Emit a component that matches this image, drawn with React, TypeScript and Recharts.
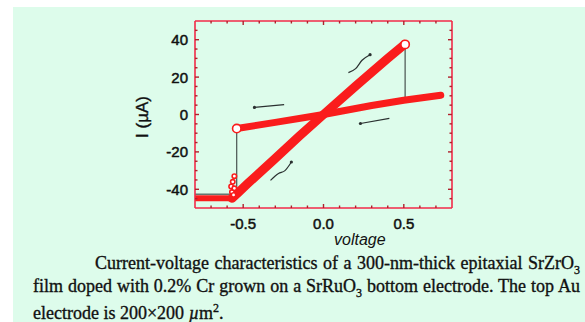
import React from "react";
import {
  ComposedChart,
  Line,
  Scatter,
  XAxis,
  YAxis,
} from "recharts";

// I-V hysteresis loop, current in µA vs voltage
const complianceFlat = [
  { v: -0.8, i: -44.8 },
  { v: -0.57, i: -44.8 },
];

const lowResBranch = [
  { v: -0.57, i: -44.8 },
  { v: -0.54, i: -42.5 },
  { v: -0.47, i: -36.8 },
  { v: -0.3, i: -23.5 },
  { v: -0.15, i: -11.5 },
  { v: 0, i: 0 },
  { v: 0.2, i: 15.2 },
  { v: 0.4, i: 30 },
  { v: 0.505, i: 37.5 },
];

const highResBranch = [
  { v: -0.54, i: -7.5 },
  { v: -0.3, i: -4.2 },
  { v: 0, i: 0 },
  { v: 0.3, i: 4.8 },
  { v: 0.5, i: 7.6 },
  { v: 0.73, i: 10.3 },
];

const setJump = [
  { v: 0.508, i: 37.5 },
  { v: 0.508, i: 8.2 },
];

const resetJump = [
  { v: -0.54, i: -7.5 },
  { v: -0.54, i: -42.6 },
  { v: -0.8, i: -42.6 },
];

const bigCircles = [
  { v: 0.508, i: 37.5 },
  { v: -0.54, i: -7.5 },
];

const smallCircles = [
  { v: -0.555, i: -33 },
  { v: -0.565, i: -36 },
  { v: -0.575, i: -38.5 },
  { v: -0.57, i: -41.5 },
  { v: -0.555, i: -39.5 },
  { v: -0.56, i: -43 },
];

// hand-drawn arrows, head at the last point
const arrowUpRight = [
  { v: 0.155, i: 22.4 },
  { v: 0.2, i: 24.5 },
  { v: 0.24, i: 29 },
  { v: 0.29, i: 32 },
];
const arrowLeftTop = [
  { v: -0.245, i: 5.3 },
  { v: -0.43, i: 3.8 },
];
const arrowLeftBottom = [
  { v: 0.41, i: -2.1 },
  { v: 0.23, i: -4.8 },
];
const arrowLowerUp = [
  { v: -0.33, i: -35.2 },
  { v: -0.28, i: -31.5 },
  { v: -0.24, i: -30 },
  { v: -0.2, i: -25.4 },
];

const xTicks = [-0.7, -0.6, -0.5, -0.4, -0.3, -0.2, -0.1, 0, 0.1, 0.2, 0.3, 0.4, 0.5, 0.6, 0.7];
const xLabels = [-0.5, 0, 0.5];
const yTicks = [-45, -40, -35, -30, -25, -20, -15, -10, -5, 0, 5, 10, 15, 20, 25, 30, 35, 40, 45];
const yLabels = [-40, -20, 0, 20, 40];

const RED = "#fa1c1c";
const FRAME = "#f22a48";
const TICK = "#b0202c";
const INK = "#2a3030";
const BG = "#ddfceb";

const labelFont = {
  fontFamily: '"Liberation Sans", Arial, sans-serif',
  fontSize: 15,
  fill: "#111",
  stroke: "#111",
  strokeWidth: 0.5,
};

function XTick(props: any) {
  const { x, y, payload, side } = props;
  const v = payload.value;
  const major = xLabels.some((m) => Math.abs(m - v) < 1e-6);
  const len = major ? 4 : 2.5;
  const dir = side === "bottom" ? -1 : 1;
  return (
    <g>
      <line x1={x} y1={y} x2={x} y2={y + dir * len} stroke={TICK} strokeWidth={1.4} />
      {side === "bottom" && major && (
        <text x={x} y={y + 21} textAnchor="middle" {...labelFont}>
          {v.toFixed(1)}
        </text>
      )}
    </g>
  );
}

function YTick(props: any) {
  const { x, y, payload, side } = props;
  const v = payload.value;
  const major = yLabels.includes(v);
  const len = major ? 4 : 2.5;
  const dir = side === "left" ? 1 : -1;
  return (
    <g>
      <line x1={x} y1={y} x2={x + dir * len} y2={y} stroke={TICK} strokeWidth={1.4} />
      {side === "left" && major && (
        <text x={x - 7} y={y + 5.5} textAnchor="end" {...labelFont}>
          {v}
        </text>
      )}
    </g>
  );
}

function headDot(p: any, last: number) {
  if (p.index !== last) return <g key={p.index} />;
  return <circle key={p.index} cx={p.cx} cy={p.cy} r={1.6} fill={INK} />;
}

function OpenCircle(r: number) {
  return (p: any) => (
    <circle cx={p.cx} cy={p.cy} r={r} fill="#ffffff" stroke={RED} strokeWidth={1.6} />
  );
}

const axes = { xAxisId: "b", yAxisId: "l" };

export default function App() {
  return (
    <div style={{ position: "fixed", left: 0, top: 0, width: 585, height: 322, background: "#fff", overflow: "hidden" }}>
      <div style={{ position: "absolute", left: 13, top: 7, width: 572, height: 315, background: BG }} />
      <div style={{ position: "absolute", left: 0, top: 0 }}>
        <ComposedChart width={585} height={240} margin={{ top: 20, right: 132, bottom: 12, left: 155 }}>
          <XAxis
            xAxisId="b"
            dataKey="v"
            type="number"
            domain={[-0.8, 0.8]}
            ticks={xTicks}
            interval={0}
            height={20}
            tickSize={0}
            tickMargin={0}
            tickLine={false}
            axisLine={{ stroke: FRAME, strokeWidth: 1.6 }}
            tick={(p: any) => <XTick {...p} side="bottom" />}
          />
          <XAxis
            xAxisId="t"
            dataKey="v"
            type="number"
            orientation="top"
            domain={[-0.8, 0.8]}
            ticks={xTicks}
            interval={0}
            height={1}
            tickSize={0}
            tickMargin={0}
            tickLine={false}
            axisLine={{ stroke: FRAME, strokeWidth: 1.6 }}
            tick={(p: any) => <XTick {...p} side="top" />}
          />
          <YAxis
            yAxisId="l"
            type="number"
            domain={[-50, 50]}
            ticks={yTicks}
            interval={0}
            width={40}
            tickSize={0}
            tickMargin={0}
            tickLine={false}
            axisLine={{ stroke: FRAME, strokeWidth: 1.6 }}
            tick={(p: any) => <YTick {...p} side="left" />}
          />
          <YAxis
            yAxisId="r"
            type="number"
            orientation="right"
            domain={[-50, 50]}
            ticks={yTicks}
            interval={0}
            width={1}
            tickSize={0}
            tickMargin={0}
            tickLine={false}
            axisLine={{ stroke: FRAME, strokeWidth: 1.6 }}
            tick={(p: any) => <YTick {...p} side="right" />}
          />
          <Line xAxisId="t" yAxisId="r" data={highResBranch} dataKey="i" stroke="none" dot={false} isAnimationActive={false} />

          <Line {...axes} data={setJump} dataKey="i" stroke={INK} strokeWidth={1} dot={false} isAnimationActive={false} />
          <Line {...axes} data={resetJump} dataKey="i" stroke={INK} strokeWidth={1} dot={false} isAnimationActive={false} />

          <Line {...axes} data={complianceFlat} dataKey="i" stroke={RED} strokeWidth={6} dot={false} isAnimationActive={false} />
          <Line {...axes} data={lowResBranch} dataKey="i" stroke={RED} strokeWidth={9} strokeLinecap="round" strokeLinejoin="round" dot={false} isAnimationActive={false} />
          <Line {...axes} data={highResBranch} dataKey="i" stroke={RED} strokeWidth={7} strokeLinecap="round" strokeLinejoin="round" dot={false} isAnimationActive={false} />

          <Scatter {...axes} data={smallCircles} dataKey="i" shape={OpenCircle(2.2)} isAnimationActive={false} />
          <Scatter {...axes} data={bigCircles} dataKey="i" shape={OpenCircle(4.2)} isAnimationActive={false} />

          <Line {...axes} data={arrowUpRight} dataKey="i" type="monotone" stroke={INK} strokeWidth={1.2} dot={(p: any) => headDot(p, arrowUpRight.length - 1)} isAnimationActive={false} />
          <Line {...axes} data={arrowLeftTop} dataKey="i" stroke={INK} strokeWidth={1.2} dot={(p: any) => headDot(p, arrowLeftTop.length - 1)} isAnimationActive={false} />
          <Line {...axes} data={arrowLeftBottom} dataKey="i" stroke={INK} strokeWidth={1.2} dot={(p: any) => headDot(p, arrowLeftBottom.length - 1)} isAnimationActive={false} />
          <Line {...axes} data={arrowLowerUp} dataKey="i" type="monotone" stroke={INK} strokeWidth={1.2} dot={(p: any) => headDot(p, arrowLowerUp.length - 1)} isAnimationActive={false} />
        </ComposedChart>
      </div>

      <div
        style={{
          position: "absolute",
          left: 143,
          top: 117,
          transform: "translate(-50%, -50%) rotate(-90deg)",
          fontFamily: '"Liberation Sans", Arial, sans-serif',
          fontSize: 17,
          whiteSpace: "nowrap",
          color: "#111",
          WebkitTextStroke: "0.4px #111",
        }}
      >
        I (µA)
      </div>
      <div
        style={{
          position: "absolute",
          left: 334,
          top: 230,
          fontFamily: '"Liberation Sans", Arial, sans-serif',
          fontStyle: "italic",
          fontSize: 16,
          color: "#111",
          lineHeight: "20px",
        }}
      >
        voltage
      </div>

      <div
        style={{
          position: "absolute",
          left: 0,
          top: 0,
          fontFamily: '"Liberation Serif", "Times New Roman", serif',
          fontSize: 18,
          lineHeight: "20px",
          color: "#111",
          WebkitTextStroke: "0.35px #111",
        }}
      >
        <div style={{ position: "absolute", left: 95, top: 253, width: 485, textAlign: "justify", textAlignLast: "justify", whiteSpace: "nowrap" }}>
          Current-voltage characteristics of a 300-nm-thick epitaxial SrZrO<sub style={{ fontSize: 12 }}>3</sub>
        </div>
        <div style={{ position: "absolute", left: 33, top: 276, width: 547, textAlign: "justify", textAlignLast: "justify", whiteSpace: "nowrap" }}>
          film doped with 0.2% Cr grown on a SrRuO<sub style={{ fontSize: 12 }}>3</sub> bottom electrode. The top Au
        </div>
        <div style={{ position: "absolute", left: 33, top: 298, whiteSpace: "nowrap" }}>
          electrode is 200×200 <i>µ</i>m<sup style={{ fontSize: 12 }}>2</sup>.
        </div>
      </div>
    </div>
  );
}
